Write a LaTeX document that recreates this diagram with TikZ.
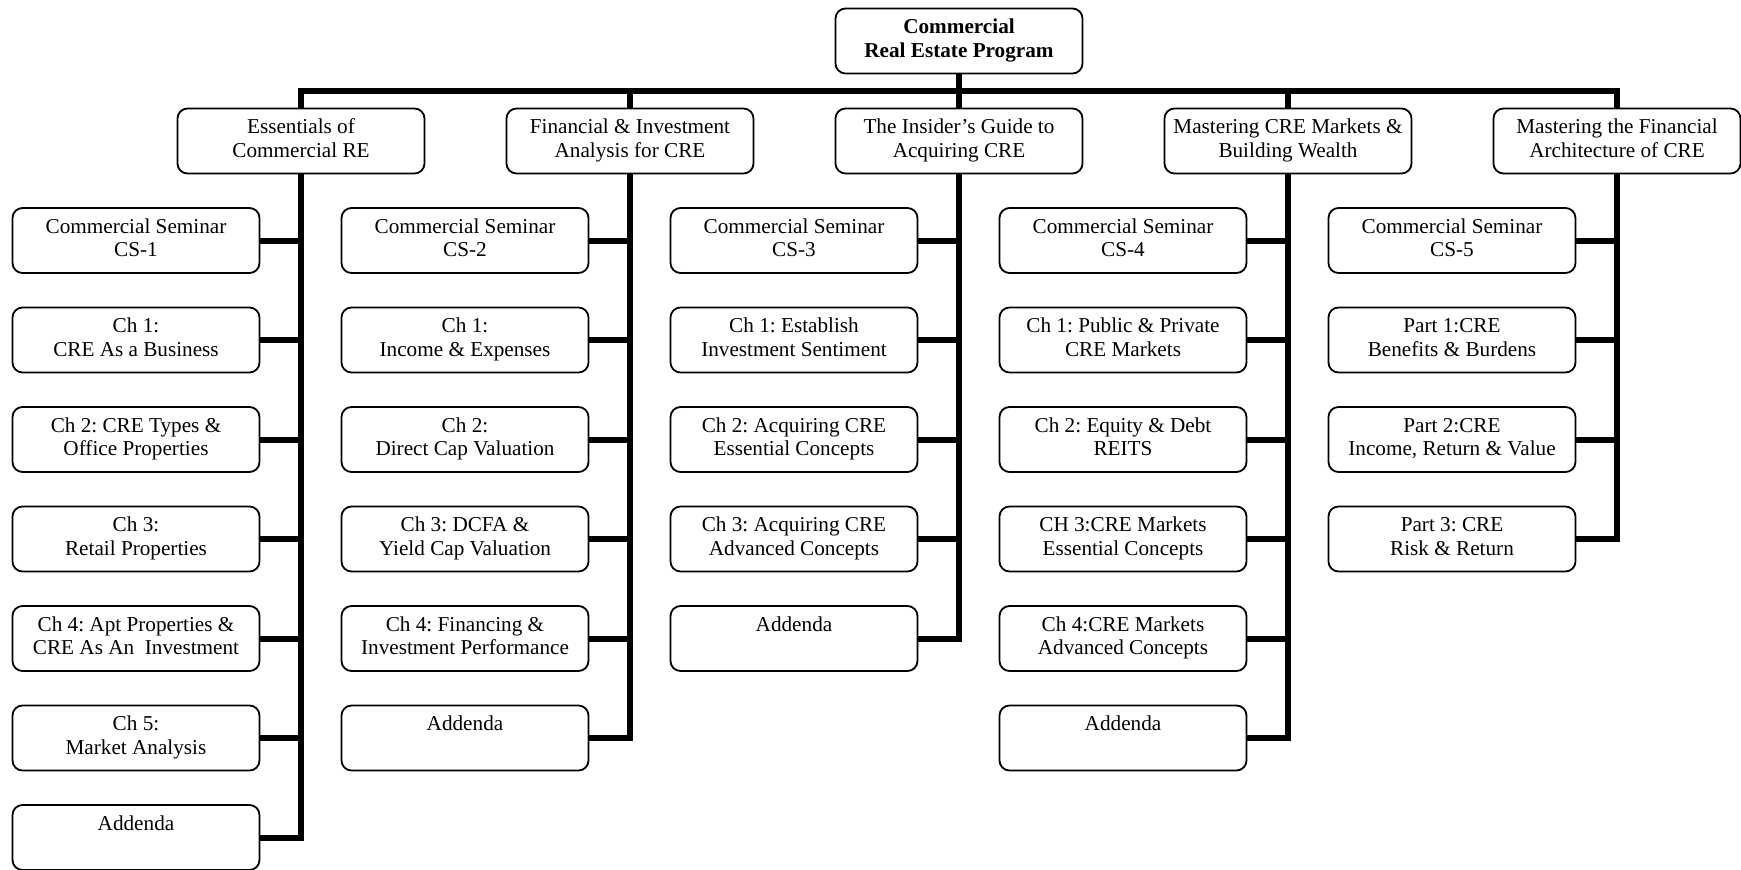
\documentclass[tikz,border=0pt]{standalone}
\usepackage{fontspec}
\setmainfont{Liberation Serif}
\newcommand\twoline[2]{\strut #1\\\strut #2}
\begin{document}
\frenchspacing
\begin{tikzpicture}[x=0.5pt,y=-0.5pt,
  box/.style={draw, line width=0.9pt, rounded corners=5pt, minimum width=123.5pt,
    minimum height=32.5pt, align=center, inner sep=0pt, fill=white,
    font=\fontsize{10.6}{11.7}\selectfont},
  rootbox/.style={box, font=\fontsize{10.6}{11.7}\selectfont\bfseries},
  conn/.style={line width=3pt, line join=miter}]
\useasboundingbox (0,0) rectangle (1741,869);

% root
\node[rootbox] (root) at (959,41) {\twoline{Commercial}{Real Estate Program}};

% level 2
\node[box] (A) at (301,141) {\twoline{Essentials of}{Commercial RE}};
\node[box] (B) at (630,141) {\twoline{Financial \& Investment}{Analysis for CRE}};
\node[box] (C) at (959,141) {\twoline{The Insider’s Guide to}{Acquiring CRE}};
\node[box] (D) at (1288,141) {\twoline{Mastering CRE Markets \&}{Building Wealth}};
\node[box] (E) at (1617,141) {\twoline{Mastering the Financial}{Architecture of CRE}};

\coordinate (bar) at (959,91);
\draw[conn] (A.north) -- (A.north |- bar) -- (E.north |- bar) -- (E.north);
\draw[conn] (root.south) -- (bar);
\foreach \n in {B,C,D} \draw[conn] (\n.north |- bar) -- (\n.north);

% column A
\node[box] (A1) at (136,240.5) {\twoline{Commercial Seminar}{CS-1}};
\node[box] (A2) at (136,340.0) {\twoline{Ch 1:}{CRE As a Business}};
\node[box] (A3) at (136,439.5) {\twoline{Ch 2: CRE Types \&}{Office Properties}};
\node[box] (A4) at (136,539.0) {\twoline{Ch 3:}{Retail Properties}};
\node[box] (A5) at (136,638.5) {\twoline{Ch 4: Apt Properties \&}{CRE As An\ \ Investment}};
\node[box] (A6) at (136,738.0) {\twoline{Ch 5:}{Market Analysis}};
\node[box] (A7) at (136,837.5) {\twoline{Addenda}{}};

% column B
\node[box] (B1) at (465,240.5) {\twoline{Commercial Seminar}{CS-2}};
\node[box] (B2) at (465,340.0) {\twoline{Ch 1:}{Income \& Expenses}};
\node[box] (B3) at (465,439.5) {\twoline{Ch 2:}{Direct Cap Valuation}};
\node[box] (B4) at (465,539.0) {\twoline{Ch 3: DCFA \&}{Yield Cap Valuation}};
\node[box] (B5) at (465,638.5) {\twoline{Ch 4: Financing \&}{Investment Performance}};
\node[box] (B6) at (465,738.0) {\twoline{Addenda}{}};

% column C
\node[box] (C1) at (794,240.5) {\twoline{Commercial Seminar}{CS-3}};
\node[box] (C2) at (794,340.0) {\twoline{Ch 1: Establish}{Investment Sentiment}};
\node[box] (C3) at (794,439.5) {\twoline{Ch 2: Acquiring CRE}{Essential Concepts}};
\node[box] (C4) at (794,539.0) {\twoline{Ch 3: Acquiring CRE}{Advanced Concepts}};
\node[box] (C5) at (794,638.5) {\twoline{Addenda}{}};

% column D
\node[box] (D1) at (1123,240.5) {\twoline{Commercial Seminar}{CS-4}};
\node[box] (D2) at (1123,340.0) {\twoline{Ch 1: Public \& Private}{CRE Markets}};
\node[box] (D3) at (1123,439.5) {\twoline{Ch 2: Equity \& Debt}{REITS}};
\node[box] (D4) at (1123,539.0) {\twoline{CH 3:CRE Markets}{Essential Concepts}};
\node[box] (D5) at (1123,638.5) {\twoline{Ch 4:CRE Markets}{Advanced Concepts}};
\node[box] (D6) at (1123,738.0) {\twoline{Addenda}{}};

% column E
\node[box] (E1) at (1452,240.5) {\twoline{Commercial Seminar}{CS-5}};
\node[box] (E2) at (1452,340.0) {\twoline{Part 1:CRE}{Benefits \& Burdens}};
\node[box] (E3) at (1452,439.5) {\twoline{Part 2:CRE}{Income, Return \& Value}};
\node[box] (E4) at (1452,539.0) {\twoline{Part 3: CRE}{Risk \& Return}};

% connectors
\draw[conn] (A.south) -- (A.south |- A7.east) -- (A7.east);
\foreach \i in {1,...,6} \draw[conn] (A\i.east) -- (A\i.east -| A.south);
\draw[conn] (B.south) -- (B.south |- B6.east) -- (B6.east);
\foreach \i in {1,...,5} \draw[conn] (B\i.east) -- (B\i.east -| B.south);
\draw[conn] (C.south) -- (C.south |- C5.east) -- (C5.east);
\foreach \i in {1,...,4} \draw[conn] (C\i.east) -- (C\i.east -| C.south);
\draw[conn] (D.south) -- (D.south |- D6.east) -- (D6.east);
\foreach \i in {1,...,5} \draw[conn] (D\i.east) -- (D\i.east -| D.south);
\draw[conn] (E.south) -- (E.south |- E4.east) -- (E4.east);
\foreach \i in {1,...,3} \draw[conn] (E\i.east) -- (E\i.east -| E.south);
\end{tikzpicture}
\end{document}
